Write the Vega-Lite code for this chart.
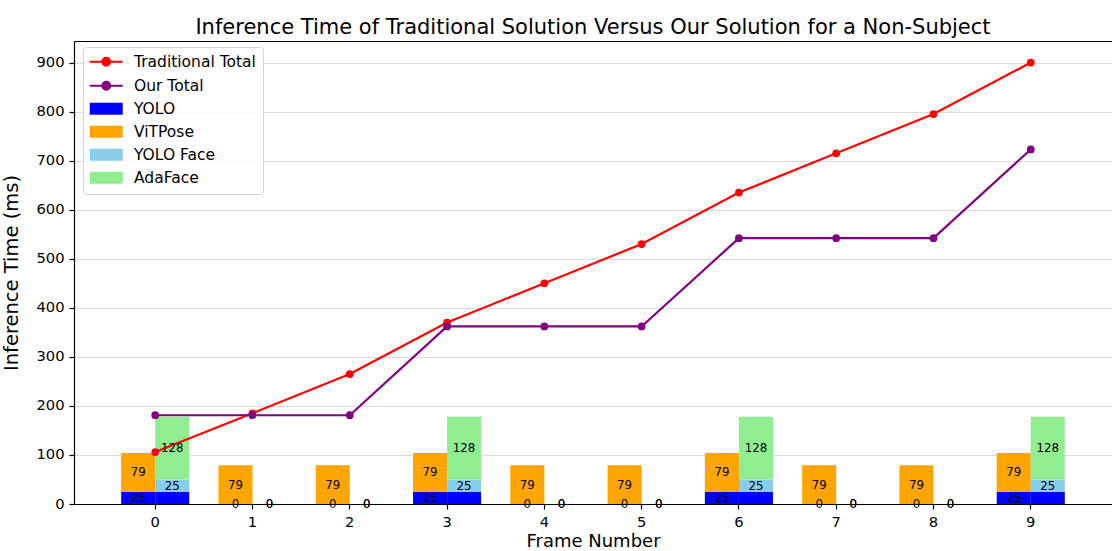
{
  "$schema": "https://vega.github.io/schema/vega-lite/v6.json",
  "autosize": {"type": "none"},
  "width": 1038,
  "height": 463,
  "padding": {"left": 74, "top": 41, "right": 0, "bottom": 47},
  "background": "white",
  "title": {
    "text": "Inference Time of Traditional Solution Versus Our Solution for a Non-Subject",
    "font": "DejaVu Sans",
    "fontSize": 21,
    "fontWeight": "normal",
    "color": "black",
    "anchor": "middle",
    "frame": "group",
    "offset": 3
  },
  "config": {
    "view": {"stroke": null},
    "font": "DejaVu Sans",
    "axis": {
      "labelFont": "DejaVu Sans",
      "titleFont": "DejaVu Sans",
      "labelColor": "black",
      "titleColor": "black",
      "titleFontWeight": "normal"
    },
    "axisY": {
      "labelFontSize": 14.7,
      "titleFontSize": 19.5,
      "tickSize": 5,
      "tickWidth": 1.2,
      "tickColor": "black",
      "domainColor": "black",
      "domainWidth": 1.2,
      "labelPadding": 5,
      "titlePadding": 14,
      "grid": true,
      "gridColor": "#dadada",
      "gridWidth": 1
    }
  },
  "datasets": {
    "parts": [
      {"frame": 0, "bar": "Traditional", "component": "YOLO", "ms": 25},
      {"frame": 0, "bar": "Traditional", "component": "ViTPose", "ms": 79},
      {"frame": 0, "bar": "Ours", "component": "YOLO", "ms": 25},
      {"frame": 0, "bar": "Ours", "component": "YOLO Face", "ms": 25},
      {"frame": 0, "bar": "Ours", "component": "AdaFace", "ms": 128},
      {"frame": 1, "bar": "Traditional", "component": "YOLO", "ms": 0},
      {"frame": 1, "bar": "Traditional", "component": "ViTPose", "ms": 79},
      {"frame": 1, "bar": "Ours", "component": "YOLO", "ms": 0},
      {"frame": 1, "bar": "Ours", "component": "YOLO Face", "ms": 0},
      {"frame": 1, "bar": "Ours", "component": "AdaFace", "ms": 0},
      {"frame": 2, "bar": "Traditional", "component": "YOLO", "ms": 0},
      {"frame": 2, "bar": "Traditional", "component": "ViTPose", "ms": 79},
      {"frame": 2, "bar": "Ours", "component": "YOLO", "ms": 0},
      {"frame": 2, "bar": "Ours", "component": "YOLO Face", "ms": 0},
      {"frame": 2, "bar": "Ours", "component": "AdaFace", "ms": 0},
      {"frame": 3, "bar": "Traditional", "component": "YOLO", "ms": 25},
      {"frame": 3, "bar": "Traditional", "component": "ViTPose", "ms": 79},
      {"frame": 3, "bar": "Ours", "component": "YOLO", "ms": 25},
      {"frame": 3, "bar": "Ours", "component": "YOLO Face", "ms": 25},
      {"frame": 3, "bar": "Ours", "component": "AdaFace", "ms": 128},
      {"frame": 4, "bar": "Traditional", "component": "YOLO", "ms": 0},
      {"frame": 4, "bar": "Traditional", "component": "ViTPose", "ms": 79},
      {"frame": 4, "bar": "Ours", "component": "YOLO", "ms": 0},
      {"frame": 4, "bar": "Ours", "component": "YOLO Face", "ms": 0},
      {"frame": 4, "bar": "Ours", "component": "AdaFace", "ms": 0},
      {"frame": 5, "bar": "Traditional", "component": "YOLO", "ms": 0},
      {"frame": 5, "bar": "Traditional", "component": "ViTPose", "ms": 79},
      {"frame": 5, "bar": "Ours", "component": "YOLO", "ms": 0},
      {"frame": 5, "bar": "Ours", "component": "YOLO Face", "ms": 0},
      {"frame": 5, "bar": "Ours", "component": "AdaFace", "ms": 0},
      {"frame": 6, "bar": "Traditional", "component": "YOLO", "ms": 25},
      {"frame": 6, "bar": "Traditional", "component": "ViTPose", "ms": 79},
      {"frame": 6, "bar": "Ours", "component": "YOLO", "ms": 25},
      {"frame": 6, "bar": "Ours", "component": "YOLO Face", "ms": 25},
      {"frame": 6, "bar": "Ours", "component": "AdaFace", "ms": 128},
      {"frame": 7, "bar": "Traditional", "component": "YOLO", "ms": 0},
      {"frame": 7, "bar": "Traditional", "component": "ViTPose", "ms": 79},
      {"frame": 7, "bar": "Ours", "component": "YOLO", "ms": 0},
      {"frame": 7, "bar": "Ours", "component": "YOLO Face", "ms": 0},
      {"frame": 7, "bar": "Ours", "component": "AdaFace", "ms": 0},
      {"frame": 8, "bar": "Traditional", "component": "YOLO", "ms": 0},
      {"frame": 8, "bar": "Traditional", "component": "ViTPose", "ms": 79},
      {"frame": 8, "bar": "Ours", "component": "YOLO", "ms": 0},
      {"frame": 8, "bar": "Ours", "component": "YOLO Face", "ms": 0},
      {"frame": 8, "bar": "Ours", "component": "AdaFace", "ms": 0},
      {"frame": 9, "bar": "Traditional", "component": "YOLO", "ms": 25},
      {"frame": 9, "bar": "Traditional", "component": "ViTPose", "ms": 79},
      {"frame": 9, "bar": "Ours", "component": "YOLO", "ms": 25},
      {"frame": 9, "bar": "Ours", "component": "YOLO Face", "ms": 25},
      {"frame": 9, "bar": "Ours", "component": "AdaFace", "ms": 128}
    ],
    "totals": [
      {"frame": 0, "series": "Traditional Total", "ms": 106},
      {"frame": 1, "series": "Traditional Total", "ms": 185},
      {"frame": 2, "series": "Traditional Total", "ms": 265},
      {"frame": 3, "series": "Traditional Total", "ms": 370},
      {"frame": 4, "series": "Traditional Total", "ms": 450},
      {"frame": 5, "series": "Traditional Total", "ms": 530},
      {"frame": 6, "series": "Traditional Total", "ms": 635},
      {"frame": 7, "series": "Traditional Total", "ms": 715},
      {"frame": 8, "series": "Traditional Total", "ms": 795},
      {"frame": 9, "series": "Traditional Total", "ms": 900},
      {"frame": 0, "series": "Our Total", "ms": 181},
      {"frame": 1, "series": "Our Total", "ms": 181},
      {"frame": 2, "series": "Our Total", "ms": 181},
      {"frame": 3, "series": "Our Total", "ms": 362},
      {"frame": 4, "series": "Our Total", "ms": 362},
      {"frame": 5, "series": "Our Total", "ms": 362},
      {"frame": 6, "series": "Our Total", "ms": 542},
      {"frame": 7, "series": "Our Total", "ms": 542},
      {"frame": 8, "series": "Our Total", "ms": 542},
      {"frame": 9, "series": "Our Total", "ms": 723}
    ]
  },
  "resolve": {"axis": {"x": "independent"}},
  "layer": [
    {
      "data": {"name": "parts"},
      "transform": [
        {"calculate": "indexof(['YOLO','ViTPose','YOLO Face','AdaFace'], datum.component)", "as": "rank"},
        {"stack": "ms", "groupby": ["frame", "bar"], "sort": [{"field": "rank", "order": "ascending"}], "as": ["lo", "hi"]}
      ],
      "mark": {"type": "bar", "stroke": null},
      "encoding": {
        "x": {
          "field": "frame",
          "type": "ordinal",
          "scale": {"type": "band", "paddingInner": 0.3, "paddingOuter": 0.485},
          "axis": {
            "title": "Frame Number",
            "orient": "bottom",
            "labelAngle": 0,
            "labelFontSize": 14.7,
            "titleFontSize": 18,
            "tickSize": 5,
            "tickWidth": 1.2,
            "tickColor": "black",
            "domainColor": "black",
            "domainWidth": 1.2,
            "labelPadding": 5,
            "titlePadding": 4,
            "grid": false
          }
        },
        "xOffset": {
          "field": "bar",
          "type": "nominal",
          "scale": {"type": "band", "domain": ["Traditional", "Ours"], "paddingInner": 0, "paddingOuter": 0}
        },
        "y": {
          "field": "lo",
          "type": "quantitative",
          "title": "Inference Time (ms)",
          "scale": {"domain": [0, 944], "nice": false, "zero": true},
          "axis": {"values": [0, 100, 200, 300, 400, 500, 600, 700, 800, 900]}
        },
        "y2": {"field": "hi"},
        "color": {
          "field": "component",
          "type": "nominal",
          "scale": {
            "domain": ["Traditional Total", "Our Total", "YOLO", "ViTPose", "YOLO Face", "AdaFace"],
            "range": ["#ff0000", "#800080", "#0000ff", "#ffa500", "#87ceeb", "#90ee90"]
          },
          "legend": {
            "title": null,
            "orient": "none",
            "legendX": 9,
            "legendY": 6,
            "padding": 7,
            "symbolOffset": 8.5,
            "labelOffset": 20,
            "rowPadding": 6,
            "symbolSize": 256,
            "symbolType": {"expr": "datum.value === 'Traditional Total' || datum.value === 'Our Total' ? 'M-2.06,0L2.06,0M-0.48,0A0.48,0.48,0,1,0,0.48,0A0.48,0.48,0,1,0,-0.48,0Z' : 'M-2.06,-0.76L2.06,-0.76L2.06,0.76L-2.06,0.76Z'"},
            "symbolStrokeWidth": {"expr": "datum.value === 'Traditional Total' || datum.value === 'Our Total' ? 2.2 : 0"},
            "symbolStrokeColor": {"expr": "scale('color', datum.value)"},
            "symbolFillColor": {"expr": "scale('color', datum.value)"},
            "symbolOpacity": 1,
            "labelFont": "DejaVu Sans",
            "labelFontSize": 15.5,
            "labelColor": "black",
            "strokeColor": "#d4d4d4",
            "fillColor": "rgba(255,255,255,0.85)",
            "cornerRadius": 3,
            "symbolLimit": 0
          }
        }
      }
    },
    {
      "data": {"name": "totals"},
      "mark": {"type": "line", "strokeWidth": 2.2, "point": {"filled": true, "size": 60, "opacity": 1}},
      "encoding": {
        "x": {
          "field": "frame",
          "type": "ordinal",
          "axis": {
            "orient": "top",
            "title": null,
            "labels": false,
            "ticks": false,
            "grid": false,
            "domain": true,
            "domainColor": "black",
            "domainWidth": 1.2
          }
        },
        "y": {
          "field": "ms",
          "type": "quantitative",
          "title": "Inference Time (ms)",
          "axis": {"values": [0, 100, 200, 300, 400, 500, 600, 700, 800, 900]}
        },
        "color": {"field": "series", "type": "nominal"}
      }
    },
    {
      "data": {"name": "parts"},
      "transform": [
        {"calculate": "indexof(['YOLO','ViTPose','YOLO Face','AdaFace'], datum.component)", "as": "rank"},
        {"stack": "ms", "groupby": ["frame", "bar"], "sort": [{"field": "rank", "order": "ascending"}], "as": ["lo", "hi"]},
        {"filter": "!(datum.bar === 'Ours' && datum.component === 'YOLO')"},
        {"calculate": "(datum.lo + datum.hi) / 2", "as": "mid"}
      ],
      "mark": {"type": "text", "font": "DejaVu Sans", "fontSize": 11.8, "color": "black", "align": "center", "baseline": "middle"},
      "encoding": {
        "x": {"field": "frame", "type": "ordinal", "axis": null},
        "xOffset": {"field": "bar", "type": "nominal"},
        "y": {
          "field": "mid",
          "type": "quantitative",
          "title": "Inference Time (ms)",
          "axis": {"values": [0, 100, 200, 300, 400, 500, 600, 700, 800, 900]}
        },
        "text": {"field": "ms", "type": "quantitative", "format": "d"}
      }
    }
  ]
}
